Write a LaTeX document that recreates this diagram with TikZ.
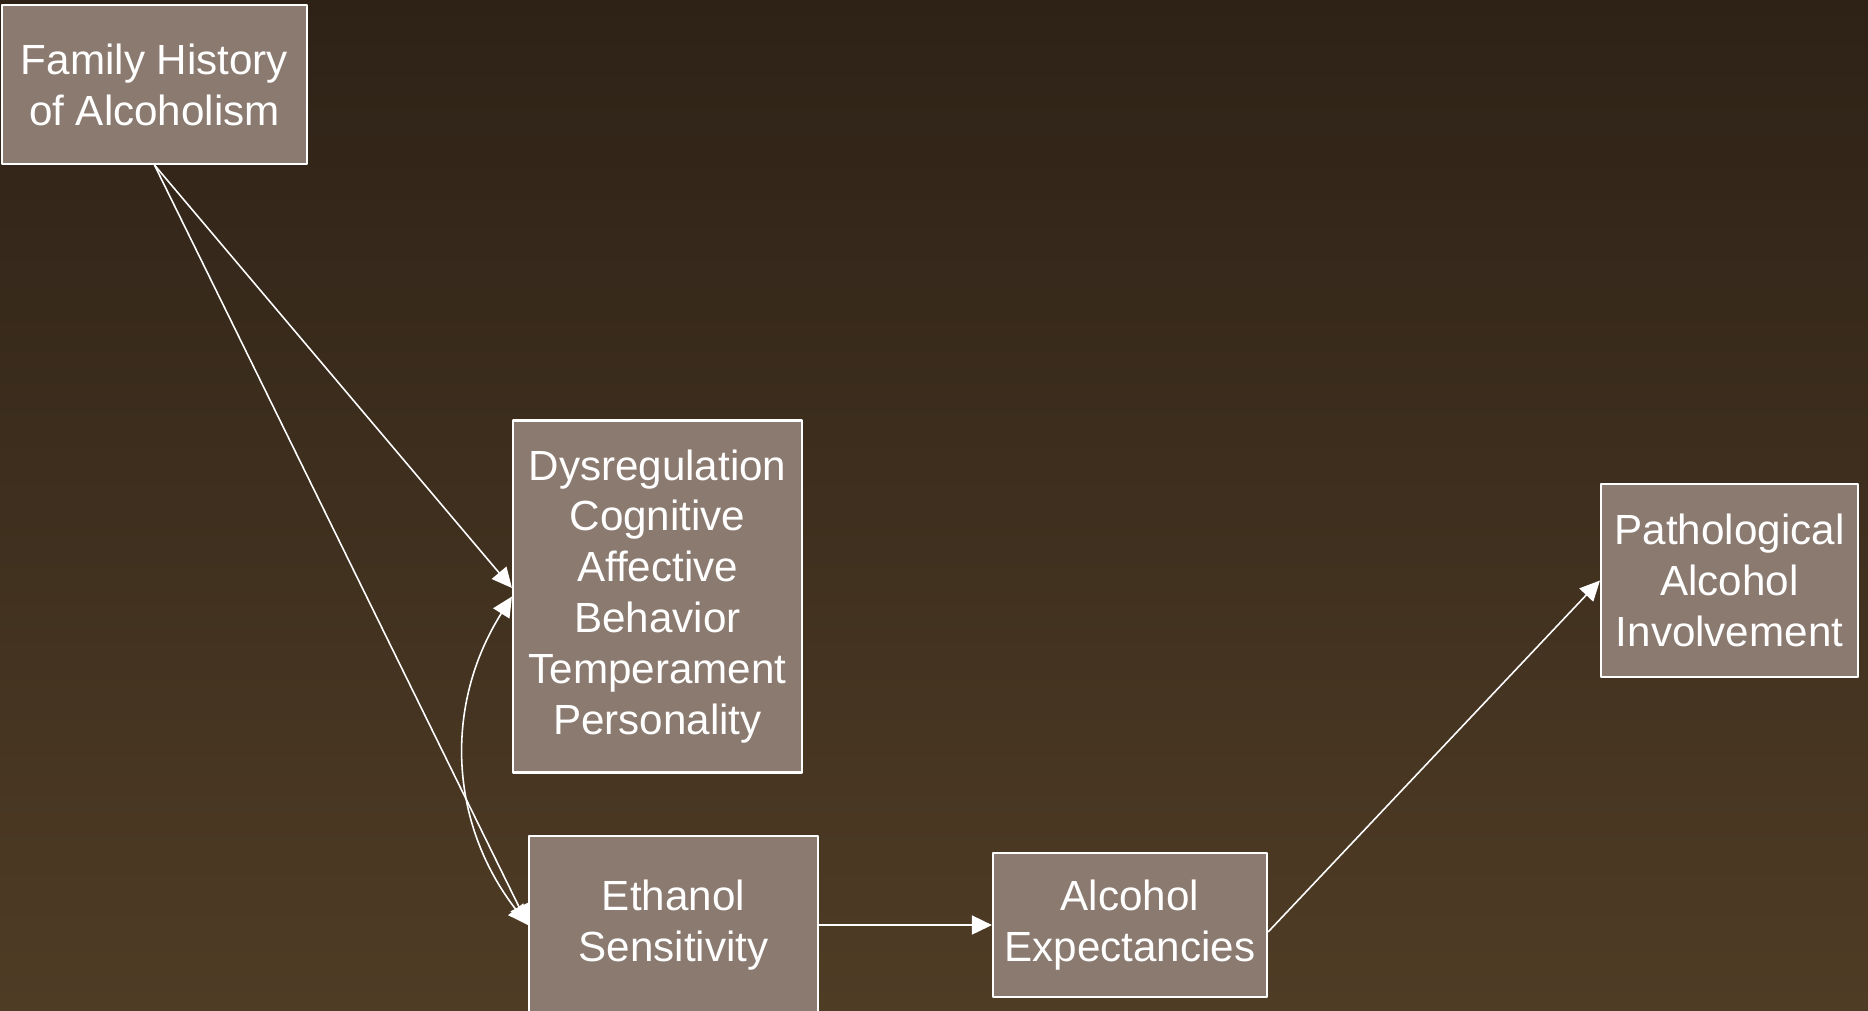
\documentclass[tikz,border=0pt]{standalone}
\usepackage{fontspec}
\setmainfont{Liberation Sans}
\usetikzlibrary{arrows.meta,calc}
\definecolor{bgtop}{HTML}{2E2217}
\definecolor{bgbot}{HTML}{4F3C25}
\definecolor{boxfill}{HTML}{8B7A70}
\begin{document}
\begin{tikzpicture}[>={Triangle[length=2mm,width=1.9mm]},line join=round,
	font=\fontsize{12}{14.5}\selectfont,
	box/.style={draw=white,line width=0.6pt,fill=boxfill,text=white,align=center,inner sep=0pt},
	link/.style={->,draw=white,line width=0.45pt}]
	\useasboundingbox (0,0) rectangle (18.68,-10.10);
	\shade[top color=bgtop,bottom color=bgbot] (0,0) rectangle (18.68,-10.10);
	\node[box,minimum width=3.05cm,minimum height=1.59cm] (fam) at (1.545,-0.845) {Family History\\of Alcoholism};
	\node[box,minimum width=2.89cm,minimum height=3.52cm] (dys) at (6.575,-5.965) {Dysregulation\\Cognitive\\Affective\\Behavior\\Temperament\\Personality};
	\node[box,minimum width=2.89cm,minimum height=1.78cm] (eth) at (6.735,-9.25) {Ethanol\\Sensitivity};
	\node[box,minimum width=2.74cm,minimum height=1.44cm] (expc) at (11.30,-9.25) {Alcohol\\Expectancies};
	\node[box,minimum width=2.57cm,minimum height=1.93cm] (path) at (17.295,-5.805) {Pathological\\Alcohol\\Involvement};
	\draw[link] (fam.south) -- ($(dys.west)+(0,0.085)$);
	\draw[link] (fam.south) -- (eth.west);
	\draw[link,<->] (dys.west) to[bend right=35] (eth.west);
	\draw[link] (eth.east) -- (expc.west);
	\draw[link] ($(expc.east)+(0,-0.07)$) -- (path.west);
\end{tikzpicture}
\end{document}
